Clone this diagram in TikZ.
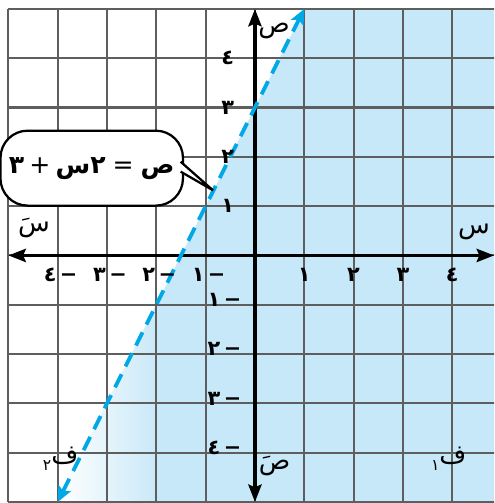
\documentclass[tikz,border=0pt]{standalone}
\usepackage{fontspec}
\usetikzlibrary{arrows.meta}
\TeXXeTstate=1
\newfontfamily\arabicfont[Script=Arabic]{DejaVu Sans}

\begin{document}
\begin{tikzpicture}[
  gridLine/.style={draw=gridGray, line width=1.2pt},
  axisLine/.style={draw=black, line width=2.2pt,
    {Stealth[length=10pt,width=7.5pt,inset=1.5pt]}-{Stealth[length=10pt,width=7.5pt,inset=1.5pt]}},
  eqLine/.style={draw=lineCyan, line width=2.2pt, dash pattern=on 8.5pt off 5pt,
    {Stealth[length=9pt,width=8pt,inset=2pt]}-{Stealth[length=9pt,width=8pt,inset=2pt]}},
  tickLbl/.style={font=\arabicfont\bfseries\fontsize{12}{12}\selectfont, inner sep=0pt},
  axisLbl/.style={font=\arabicfont\fontsize{15}{15}\selectfont, inner sep=0pt},
  eqBox/.style={draw, fill=white, line width=1.3pt, rounded corners=0.55cm,
    minimum width=3.7cm, minimum height=1.52cm, inner sep=2pt,
    font=\arabicfont\bfseries\fontsize{14.5}{15}\selectfont}
]

% Colori
\definecolor{gridGray}{HTML}{5E5E5E}
\definecolor{lineCyan}{HTML}{00A8E6}
\definecolor{skyFill}{HTML}{C7E8F8}

% Cornice
\useasboundingbox (-5.17,-5.02) rectangle (4.85,5.18);
\clip (-5.17,-5.02) rectangle (4.85,5.18);

% Semipiano ص < ٢س + ٣ (sfumato in basso a sinistra)
\fill[skyFill] (-4,-5) -- (1,5) -- (4.9,5) -- (4.9,-5) -- cycle;
\shade[left color=white, right color=skyFill] (-4,-5) -- (-1.9,-0.8) -- (-1.9,-5) -- cycle;

% Griglia
\draw[gridLine] (-5,-5) grid (5,5);

% Assi
\coordinate (xl) at (-5,0);
\coordinate (xr) at (4.85,0);
\coordinate (yb) at (0,-5);
\coordinate (yt) at (0,5);
\draw[axisLine] (xl) -- (xr);
\draw[axisLine] (yb) -- (yt);

% Retta tratteggiata
\coordinate (lo) at (-4,-5);
\coordinate (hi) at (1,5);
\draw[eqLine] (lo) -- (hi);

% Numeri sugli assi
\foreach \n/\d in {1/١,2/٢,3/٣,4/٤}{
  \node[tickLbl] (xp\n) at (\n,-0.4) {\d};
  \node[tickLbl] (xn\n) at (-\n+0.06,-0.4) {\beginR−\,\d\endR};
  \node[tickLbl] (yp\n) at (-0.55,\n) {\d};
  \node[tickLbl, anchor=east] (yn\n) at (-0.27,-\n+0.1) {\beginR−\,\d\endR};
}

% Nomi degli assi
\node[axisLbl] (xlbl) at (4.44,0.48) {س};
\node[axisLbl] (xlbln) at (-4.48,0.56) {سَ};
\node[axisLbl] (ylbl) at (0.39,4.56) {ص};
\node[axisLbl] (ylbln) at (0.4,-4.27) {صَ};

% Regioni
\node[axisLbl] (fOne) at (3.93,-4.12) {\beginR ف\raisebox{-4pt}{\fontsize{9}{9}\selectfont ١}\endR};
\node[axisLbl] (fTwo) at (-3.94,-4.12) {\beginR ف\raisebox{-4pt}{\fontsize{9}{9}\selectfont ٢}\endR};

% Fumetto con l'equazione
\node[eqBox] (eq) at (-3.31,1.77)
  {\beginR ص\hspace{4pt}{\mdseries=}\hspace{4pt}٢س\hspace{3pt}{\mdseries+}\hspace{3pt}٣\endR};
\coordinate (tip) at (-0.85,1.32);
\filldraw[fill=white, line width=1.3pt]
  ([xshift=-2pt,yshift=3.7pt]eq.east) -- (tip) -- ([xshift=-2pt,yshift=-2pt]eq.east);

\end{tikzpicture}
\end{document}
